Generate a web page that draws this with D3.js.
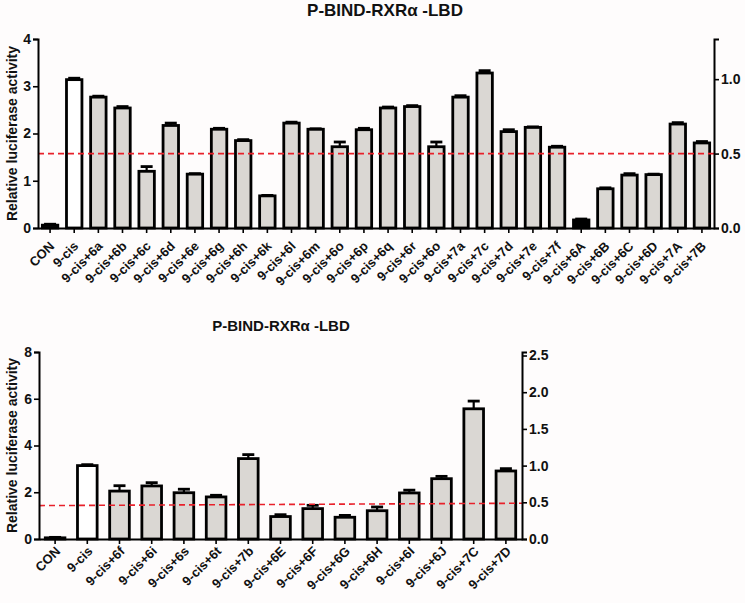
<!DOCTYPE html>
<html lang="en">
<head>
    <meta charset="UTF-8">
    <title>P-BIND-RXRα -LBD</title>
    <script src="https://d3js.org/d3.v7.min.js"></script>
    <style>
        body { margin: 0; background: #fefcfc; }
        svg { font-family: "Liberation Sans", Arial, sans-serif; font-weight: bold; }
    </style>
</head>
<body>
<svg width="745" height="603"></svg>
<script>
    // top panel
    const topLabels = ["CON", "9-cis", "9-cis+6a", "9-cis+6b", "9-cis+6c", "9-cis+6d", "9-cis+6e", "9-cis+6g",
        "9-cis+6h", "9-cis+6k", "9-cis+6l", "9-cis+6m", "9-cis+6o", "9-cis+6p", "9-cis+6q", "9-cis+6r",
        "9-cis+6o", "9-cis+7a", "9-cis+7c", "9-cis+7d", "9-cis+7e", "9-cis+7f", "9-cis+6A", "9-cis+6B",
        "9-cis+6C", "9-cis+6D", "9-cis+7A", "9-cis+7B"];
    const topValues = [0.06, 3.14, 2.77, 2.54, 1.2, 2.17, 1.14, 2.09, 1.85, 0.68, 2.22, 2.09, 1.72, 2.08,
        2.54, 2.57, 1.72, 2.77, 3.28, 2.04, 2.13, 1.71, 0.17, 0.83, 1.12, 1.13, 2.2, 1.8];
    const topErrors = [0.02, 0.03, 0.02, 0.03, 0.1, 0.05, 0.01, 0.02, 0.02, 0.01, 0.02, 0.01, 0.1, 0.03,
        0.02, 0.02, 0.1, 0.03, 0.05, 0.04, 0.01, 0.02, 0.02, 0.02, 0.03, 0.01, 0.03, 0.03];
    const topFills = {"CON": "#7a7a7a", "9-cis": "#ffffff", "9-cis+6A": "#000000"};

    // bottom panel
    const botLabels = ["CON", "9-cis", "9-cis+6f", "9-cis+6i", "9-cis+6s", "9-cis+6t", "9-cis+7b", "9-cis+6E",
        "9-cis+6F", "9-cis+6G", "9-cis+6H", "9-cis+6I", "9-cis+6J", "9-cis+7C", "9-cis+7D"];
    const botValues = [0.05, 3.14, 2.05, 2.27, 1.98, 1.8, 3.44, 0.96, 1.3, 0.93, 1.21, 1.97, 2.58, 5.57, 2.91];
    const botErrors = [0.02, 0.04, 0.23, 0.14, 0.15, 0.07, 0.17, 0.08, 0.14, 0.08, 0.16, 0.12, 0.1, 0.33, 0.1];
    const botFills = {"CON": "#111111", "9-cis": "#ffffff"};

    const title = "P-BIND-RXRα -LBD";
    const yTitle = "Relative luciferase activity";

    const svg = d3.select("svg");

    function panel(cfg) {
        const g = svg.append("g");
        const x = d3.scaleBand().domain(d3.range(cfg.labels.length))
            .range([cfg.left, cfg.right]).paddingInner(cfg.pad).paddingOuter(cfg.pad / 2);
        const y = d3.scaleLinear().domain([0, cfg.yMax]).range([cfg.bottom, cfg.top]);
        const y2 = d3.scaleLinear().domain([0, cfg.yMax / cfg.ratio]).range([cfg.bottom, cfg.top]);

        // bars
        g.selectAll("rect.bar").data(cfg.values).enter().append("rect")
            .attr("x", (d, i) => x(i))
            .attr("y", d => y(d))
            .attr("width", x.bandwidth())
            .attr("height", d => cfg.bottom - y(d))
            .attr("fill", (d, i) => cfg.fills[cfg.labels[i]] || "#dad7d3")
            .attr("stroke", "#000")
            .attr("stroke-width", 2.8);

        // error bars (upper only)
        const cap = 12;
        cfg.values.forEach(function (v, i) {
            const cx = x(i) + x.bandwidth() / 2;
            g.append("line").attr("x1", cx).attr("x2", cx)
                .attr("y1", y(v)).attr("y2", y(v + cfg.errors[i]))
                .attr("stroke", "#000").attr("stroke-width", 2.2);
            g.append("line").attr("x1", cx - cap / 2).attr("x2", cx + cap / 2)
                .attr("y1", y(v + cfg.errors[i])).attr("y2", y(v + cfg.errors[i]))
                .attr("stroke", "#000").attr("stroke-width", 2.8);
        });

        // red dashed reference line
        g.append("line")
            .attr("x1", cfg.left).attr("x2", cfg.right)
            .attr("y1", y2(cfg.refLine[0])).attr("y2", y2(cfg.refLine[1]))
            .attr("stroke", "#e8212b").attr("stroke-width", 1.6)
            .attr("stroke-dasharray", "6,4");

        // axes
        const yAxis = g.append("g").attr("transform", `translate(${cfg.left},0)`)
            .call(d3.axisLeft(y).tickValues(cfg.leftTicks).tickSize(5).tickFormat(d3.format("d")));
        const yAxis2 = g.append("g").attr("transform", `translate(${cfg.right},0)`)
            .call(d3.axisRight(y2).tickValues(cfg.rightTicks).tickSize(5).tickFormat(d3.format(".1f")));
        const xAxis = g.append("g").attr("transform", `translate(0,${cfg.bottom})`)
            .call(d3.axisBottom(x).tickSize(5).tickSizeOuter(0).tickFormat(i => cfg.labels[i]));

        [yAxis, yAxis2, xAxis].forEach(a => {
            a.selectAll(".domain").attr("stroke", "#000").attr("stroke-width", 2);
            a.selectAll(".tick line").attr("stroke", "#000").attr("stroke-width", 1.6);
            a.selectAll("text").attr("fill", "#111").style("font-size", "14px")
                .style("font-family", "'Liberation Sans', Arial, sans-serif").style("font-weight", "bold");
        });
        yAxis.selectAll("text").attr("x", -7);
        yAxis2.selectAll("text").attr("x", 7);
        xAxis.selectAll("text")
            .style("font-size", "13px")
            .attr("text-anchor", "end")
            .attr("dy", 0)
            .attr("transform", `translate(${cfg.xShift[0]},${cfg.xShift[1]}) rotate(-45)`)
            .attr("y", 0).attr("x", 0);

        // titles
        g.append("text").attr("x", cfg.titleX).attr("y", cfg.titleY)
            .attr("text-anchor", "middle").style("font-size", cfg.titleFont).attr("fill", "#111")
            .text(title);
        g.append("text")
            .attr("transform", `translate(${cfg.yTitleX},${(cfg.top + cfg.bottom) / 2}) rotate(-90)`)
            .attr("text-anchor", "middle").style("font-size", "14px").attr("fill", "#111")
            .text(yTitle);
    }

    panel({
        labels: topLabels, values: topValues, errors: topErrors, fills: topFills,
        left: 38, right: 714, top: 39, bottom: 228, yMax: 4, ratio: 3.15, pad: 0.36,
        leftTicks: [0, 1, 2, 3, 4], rightTicks: [0, 0.5, 1.0], refLine: [0.5, 0.5],
        xShift: [5, 19], titleX: 385, titleY: 16, titleFont: "17px", yTitleX: 17
    });

    panel({
        labels: botLabels, values: botValues, errors: botErrors, fills: botFills,
        left: 39, right: 522, top: 352, bottom: 539, yMax: 8, ratio: 3.14, pad: 0.39,
        leftTicks: [0, 2, 4, 6, 8], rightTicks: [0, 0.5, 1.0, 1.5, 2.0, 2.5], refLine: [0.455, 0.487],
        xShift: [6, 13], titleX: 281, titleY: 331, titleFont: "15px", yTitleX: 17
    });
</script>
</body>
</html>
